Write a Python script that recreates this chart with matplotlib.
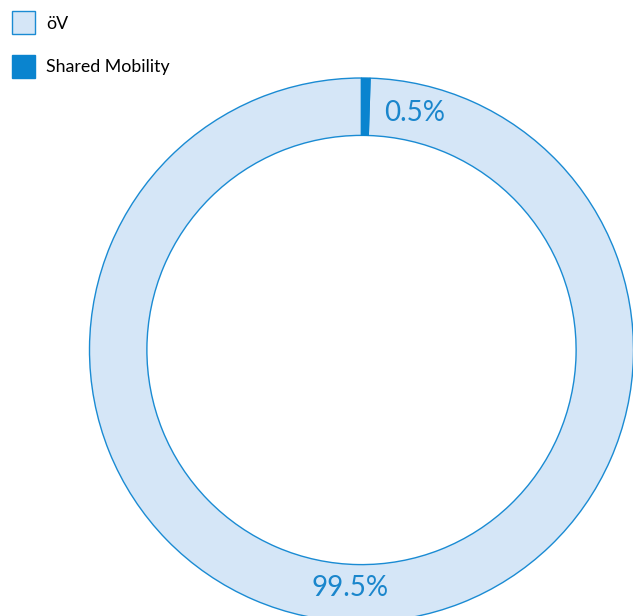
import numpy as np
import matplotlib
matplotlib.use("Agg")
import matplotlib.pyplot as plt

categories = ["öV", "Shared Mobility"]
values = [99.5, 0.5]
labels = ["99.5%", "0.5%"]

light = "#d5e6f7"
dark = "#0a84cf"
edge = "#1a8bd3"
textc = "#1a86cc"

plt.rcParams['font.family'] = ['Lato', 'DejaVu Sans']

W, H = 633, 616
fig = plt.figure(figsize=(W/100, H/100), dpi=100)
ax = fig.add_axes([0, 0, 1, 1])
cx, cy, R = 361.5, 350.0, 272.0

wedges, _ = ax.pie(values, colors=[light, dark], startangle=90, counterclock=True,
                   radius=1.0, wedgeprops=dict(width=0.211, edgecolor=edge, linewidth=1.0))
wedges[1].set_edgecolor(dark)
ax.set_xlim(-cx/R, (W-cx)/R)
ax.set_ylim(-(H-cy)/R, cy/R)
ax.set_aspect('equal')
ax.axis('off')

# label placement: (angle in degrees from +x, radius)
label_pos = [(267.2, 0.876), (77.3, 0.893)]
for (ang, r), lab in zip(label_pos, labels):
    a = np.deg2rad(ang)
    ax.text(r*np.cos(a), r*np.sin(a), lab, ha='center', va='center',
            fontsize=20, color=textc)

fig.legend(wedges, categories, loc='upper left', bbox_to_anchor=(0.005, 0.996),
           frameon=False, fontsize=12.8, handlelength=1.29, handleheight=1.61,
           labelspacing=1.17, handletextpad=0.62, borderpad=0.3, borderaxespad=0.2)

fig.savefig("out.png", dpi=100)
